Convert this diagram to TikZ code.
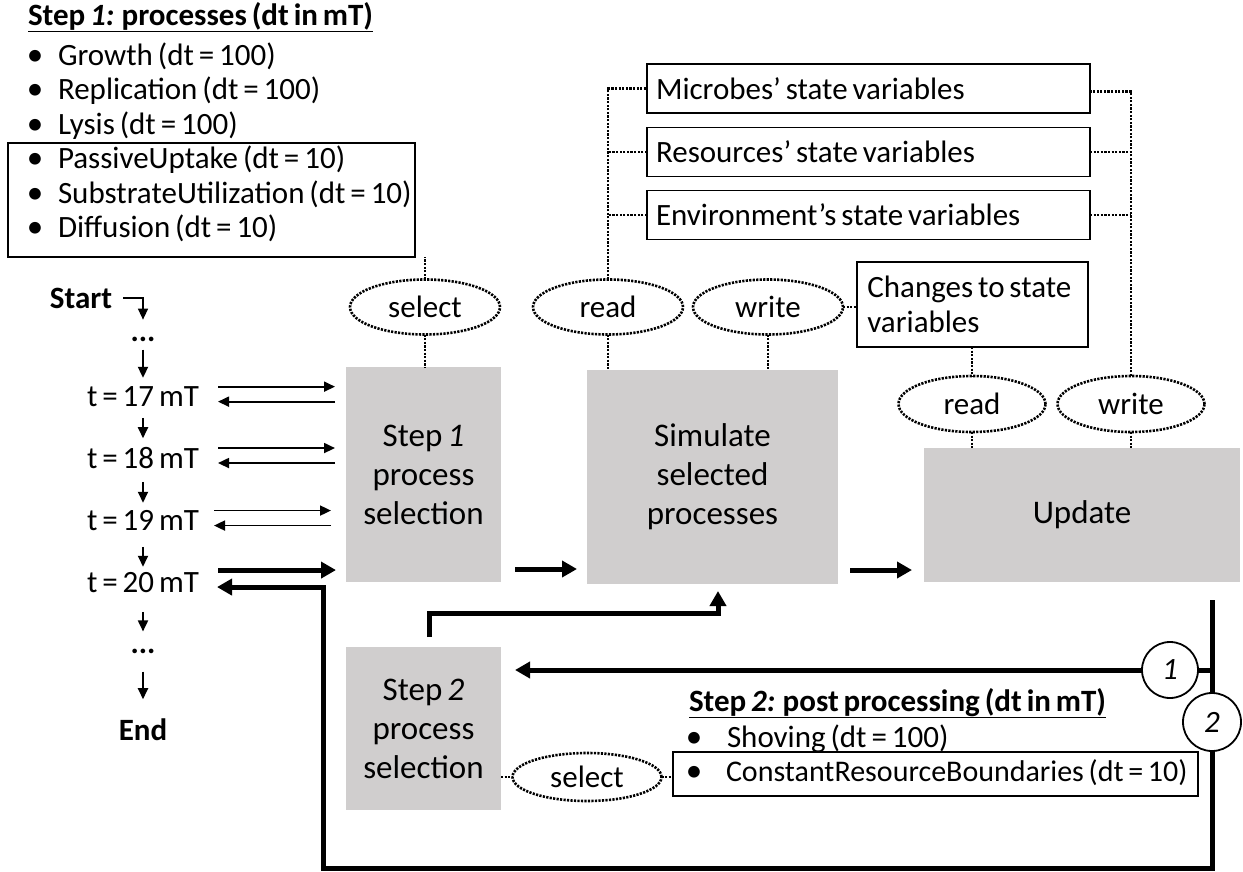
\documentclass[tikz,border=0pt]{standalone}
\usepackage{fontspec}
\setmainfont{Carlito}[WordSpace=0.7]
\usetikzlibrary{arrows.meta,calc,shapes.geometric}
\definecolor{procgray}{HTML}{D0CECE}
\begin{document}
\begin{tikzpicture}[x=1pt,y=-1pt,
  every node/.style={inner sep=0pt, outer sep=0pt, font=\fontsize{31}{39}\selectfont},
  procbox/.style={fill=procgray, align=center, font=\fontsize{33}{39}\selectfont},
  framebox/.style={draw, line width=1.8pt},
  varbox/.style={draw, line width=1.8pt, align=flush left, inner xsep=9pt, text width=425pt,
    minimum height=49pt, anchor=west},
  oval/.style={ellipse, draw, line width=2.6pt, dash pattern=on 2.2pt off 1.3pt,
    font=\fontsize{31}{35}\selectfont},
  dotlink/.style={line width=2.6pt, dash pattern=on 2.2pt off 1.4pt},
  thinarr/.style={line width=1.8pt, -{Triangle[length=11pt,width=10pt]}},
  thickarr/.style={line width=5pt, -{Triangle[length=15pt,width=16pt]}},
  thickline/.style={line width=5pt},
  numcirc/.style={circle, draw, fill=white, line width=1.8pt},
  bulletmark/.style={anchor=base, font=\fontsize{33}{39}\selectfont},
]
\useasboundingbox[fill=white] (0,0) rectangle (1243,871);

% ---------- step 1 process list ----------
\node[anchor=base west] (title1) at (28,25)
  {\underline{\textbf{Step \textit{1:} processes (dt in mT)}}};
\node[framebox, minimum width=407pt, minimum height=114pt, anchor=north west] (list1) at (8,143) {};
\foreach \i/\y/\txt in {1/65/{Growth (dt = 100)},
                        2/99.5/{Replication (dt = 100)},
                        3/134/{Lysis (dt = 100)},
                        4/168.5/{PassiveUptake (dt = 10)},
                        5/203/{SubstrateUtilization (dt = 10)},
                        6/237.5/{Diffusion (dt = 10)}} {
  \node[bulletmark] (bul\i) at (35,\y) {\textbullet};
  \node[anchor=base west] (item\i) at (58,\y) {\txt};
}

% ---------- state variable boxes ----------
\node[varbox] (micro) at (647,88.5) {Microbes’ state variables};
\node[varbox] (res) at (647,152) {Resources’ state variables};
\node[varbox] (env) at (647,215) {Environment’s state variables};
\node[draw, line width=1.8pt, anchor=north west, align=left, minimum width=231pt,
      minimum height=85pt, font=\fontsize{31}{35}\selectfont]
      (chg) at (857,262) {Changes to state\\variables\hphantom{ to state}};

% ---------- processing blocks ----------
\node[procbox, minimum width=155pt, minimum height=215pt] (step1) at (423.5,474.5)
  {Step \textit{1}\\process\\selection};
\node[procbox, minimum width=251pt, minimum height=214pt] (sim) at (712.5,477)
  {Simulate\\selected\\processes};
\node[procbox, minimum width=316pt, minimum height=134pt] (upd) at (1082,515) {Update};
\node[procbox, minimum width=155pt, minimum height=163pt] (step2) at (423.5,728.5)
  {Step \textit{2}\\process\\selection};

% ---------- access ovals ----------
\node[oval, minimum width=150pt, minimum height=55pt] (sel1) at (425,307) {select};
\node[oval, minimum width=150pt, minimum height=55pt] (read1) at (608,307) {read};
\node[oval, minimum width=150pt, minimum height=55pt] (write1) at (768,307) {write};
\node[oval, minimum width=147pt, minimum height=56pt] (read2) at (972,404) {read};
\node[oval, minimum width=147pt, minimum height=56pt] (write2) at (1131,404) {write};
\node[oval, minimum width=149pt, minimum height=48pt] (sel2) at (587,777) {select};

% ---------- dotted links ----------
\draw[dotlink] (sel1.north) -- (sel1.north |- list1.south);
\draw[dotlink] (sel1.south) -- (sel1.south |- step1.north);
\draw[dotlink] (read1.north) |- (micro.west);
\draw[dotlink] (res.west) -- (res.west -| read1);
\draw[dotlink] (env.west) -- (env.west -| read1);
\draw[dotlink] (read1.south) -- (read1.south |- sim.north);
\draw[dotlink] (write1.south) -- (write1.south |- sim.north);
\draw[dotlink] (write1.east) -- (write1.east -| chg.west);
\draw[dotlink] (read2.north |- chg.south) -- (read2.north);
\draw[dotlink] (read2.south) -- (read2.south |- upd.north);
\draw[dotlink] (write2.north) |- ($(micro.east)+(0,3)$);
\draw[dotlink] (res.east) -- (res.east -| write2);
\draw[dotlink] (env.east) -- (env.east -| write2);
\draw[dotlink] (write2.south) -- (write2.south |- upd.north);
\draw[dotlink] (step2.east |- sel2.west) -- (sel2.west);

% ---------- step 2 process list ----------
\node[anchor=base west] (title2) at (689,711)
  {\underline{\textbf{Step \textit{2:} post processing (dt in mT)}}};
\node[framebox, minimum width=525pt, minimum height=44pt, anchor=north west] (list2) at (673,752) {};
\node[bulletmark] (bul7) at (694,747) {\textbullet};
\node[anchor=base west] (item7) at (727,747) {Shoving (dt = 100)};
\node[bulletmark] (bul8) at (694,781) {\textbullet};
\node[anchor=base west, font=\fontsize{30}{39}\selectfont] (item8) at (726,781)
  {ConstantResourceBoundaries (dt = 10)};
\draw[dotlink] (sel2.east) -- (sel2.east -| list2.west);

% ---------- time line ----------
\node[anchor=base] (start) at (81,308) {\textbf{Start}};
\node[anchor=base] (dots1) at (143,341) {\textbf{...}};
\node[anchor=base] (t17) at (143,406) {t = 17 mT};
\node[anchor=base] (t18) at (143,468) {t = 18 mT};
\node[anchor=base] (t19) at (143,530) {t = 19 mT};
\node[anchor=base] (t20) at (143,592) {t = 20 mT};
\node[anchor=base] (dots2) at (143,653) {\textbf{...}};
\node[anchor=base] (end) at (143,740) {\textbf{End}};

\draw[thinarr, line width=1.4pt, shorten >=17pt] ($(start.east)+(11,0)$) -| (dots1);
\draw[thinarr, shorten <=8.5pt, shorten >=18.3pt] (dots1) -- (dots1 |- t17);
\draw[thinarr, shorten <=11.7pt, shorten >=19.3pt] (t17) -- (t17 |- t18);
\draw[thinarr, shorten <=13.7pt, shorten >=17.3pt] (t18) -- (t18 |- t19);
\draw[thinarr, shorten <=16.7pt, shorten >=15.3pt] (t19) -- (t19 |- t20);
\draw[thinarr, shorten <=19.7pt, shorten >=19.5pt] (t20) -- (t20 |- dots2);
\draw[thinarr, shorten <=18.5pt, shorten >=30pt] (dots2) -- (dots2 |- end);

% calls to step 1 selection and returns
\foreach \n/\dx in {t17/0,t18/0,t19/4} {
  \draw[thinarr] ($(\n -| step1.west)+(-128-\dx,-9.5)$) -- ($(\n -| step1.west)+(-11-\dx,-9.5)$);
  \draw[thinarr] ($(\n -| step1.west)+(-11-\dx,5.5)$) -- ($(\n -| step1.west)+(-128-\dx,5.5)$);
}
\draw[thickarr] ($(t20 -| step1.west)+(-128,-12)$) -- ($(t20 -| step1.west)+(-10,-12)$);

% ---------- main flow ----------
\draw[thickarr] ($(step1.south east)+(14,-13)$) -- ($(sim.west |- step1.south east)+(-10,-13)$);
\draw[thickarr] ($(sim.south east)+(12,-14)$) -- ($(upd.west |- sim.south east)+(-12,-14)$);
\draw[thickarr] ($(step2.north)+(5.5,-10)$) |- ($(sim.south)+(5.5,29)$) -- ($(sim.south)+(5.5,7)$);

% return branch
\coordinate (rtop) at (1212,600);
\coordinate (rcorner) at (323,868);
\draw[thickarr] (rtop) |- (rcorner) -- ($(t20 -| rcorner)+(0,5)$) -- ($(t20 -| step1.west)+(-129,5)$);
\node[numcirc, minimum size=58pt] (c2) at (1212,722) {\textit{2}};
\node[numcirc, minimum size=56pt] (c1) at (1170,670) {\textit{1}};
\draw[thickline] (c1.east) -- (c1.east -| rtop);
\draw[thickarr] (c1.west) -- ($(c1.west -| step2.east)+(14,0)$);
\end{tikzpicture}
\end{document}
